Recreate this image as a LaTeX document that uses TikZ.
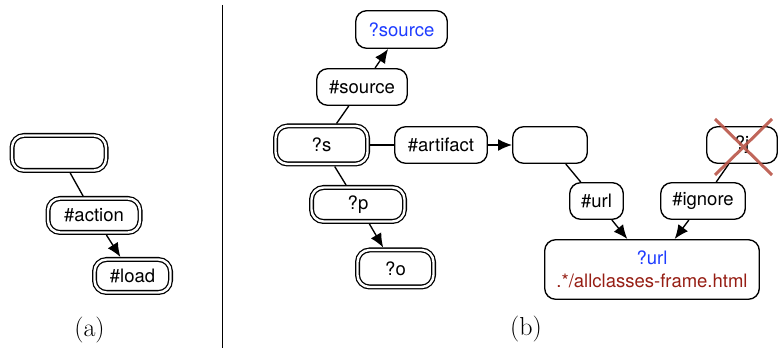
\documentclass[tikz,border=0pt]{standalone}
\usepackage{fontspec}
\setsansfont{TeX Gyre Heros}
\usetikzlibrary{arrows.meta}
\definecolor{qblue}{RGB}{30,60,255}
\definecolor{qred}{RGB}{150,30,20}
\definecolor{xred}{RGB}{185,85,72}
\tikzset{
  sbox/.style={draw, line width=1.35pt, rounded corners=11pt, inner sep=0pt, outer sep=0.7pt,
    font=\sffamily\fontsize{18.5}{23}\selectfont, align=center},
  dbox/.style={draw, double, double distance=2.4pt, line width=1.3pt, rounded corners=12pt,
    inner sep=0pt, outer sep=2.5pt, font=\sffamily\fontsize{18.5}{23}\selectfont},
  link/.style={line width=1.35pt},
  arr/.style={line width=1.35pt, -{Latex[length=14pt,width=12pt]}},
  captext/.style={font=\fontsize{26}{30}\selectfont}
}
\begin{document}
\begin{tikzpicture}[x=1pt,y=-1pt]
\useasboundingbox (0,0) rectangle (779,352);
% panel (a)
\node[dbox, minimum width=94pt, minimum height=35pt] (ae) at (59,153) {};
\node[dbox, minimum width=92pt, minimum height=34pt] (aact) at (94,215.5) {\#action};
\node[dbox, minimum width=76pt, minimum height=33pt] (aload) at (132.5,276) {\#load};
\draw[link] (ae) -- (aact);
\draw[arr] (aact) -- (aload);
\node[captext] (la) at (89.5,330) {(a)};
% divider
\coordinate (d1) at (222,5);
\coordinate (d2) at (222,348);
\draw[line width=1pt] (d1) -- (d2);
% panel (b)
\node[sbox, minimum width=91.6pt, minimum height=37.6pt, text=qblue] (qsrc) at (401.5,29.5) {?source};
\node[sbox, minimum width=90.6pt, minimum height=36.6pt] (hsrc) at (362,87) {\#source};
\node[dbox, minimum width=92pt, minimum height=38pt] (qs) at (321.5,145) {?s};
\node[sbox, minimum width=92.6pt, minimum height=36.6pt] (hart) at (441,145) {\#artifact};
\node[dbox, minimum width=93pt, minimum height=34pt] (qp) at (358,204.5) {?p};
\node[dbox, minimum width=76pt, minimum height=37pt] (qo) at (395.5,268.5) {?o};
\node[sbox, minimum width=74.6pt, minimum height=36.6pt] (be) at (550,145) {};
\node[sbox, minimum width=70.6pt, minimum height=36.6pt] (qj) at (742,145) {?j};
\node[sbox, minimum width=53.6pt, minimum height=36.6pt] (hurl) at (596.5,201) {\#url};
\node[sbox, minimum width=84.6pt, minimum height=36.6pt] (hign) at (703,201) {\#ignore};
\node[sbox, minimum width=214.6pt, minimum height=59.6pt] (qurl) at (652,269.5)
  {\textcolor{qblue}{?url}\\\textcolor{qred}{.*/allclasses-frame.html}};
\draw[arr] (hsrc) -- (qsrc);
\draw[link] (qs) -- (hsrc);
\draw[link] (qs) -- (hart);
\draw[arr] (hart) -- (be);
\draw[link] (qs) -- (qp);
\draw[arr] (qp) -- (qo);
\draw[link] (be) -- (hurl);
\draw[arr] (hurl) -- (qurl);
\draw[link] (qj) -- (hign);
\draw[arr] (hign) -- (qurl);
% cross over ?j
\coordinate (x1) at (715,119);
\coordinate (x2) at (772,175);
\coordinate (x3) at (772,119);
\coordinate (x4) at (715,175);
\draw[xred, line width=3pt, opacity=0.9] (x1) -- (x2) (x3) -- (x4);
\node[captext] (lb) at (526,329) {(b)};
\end{tikzpicture}
\end{document}
